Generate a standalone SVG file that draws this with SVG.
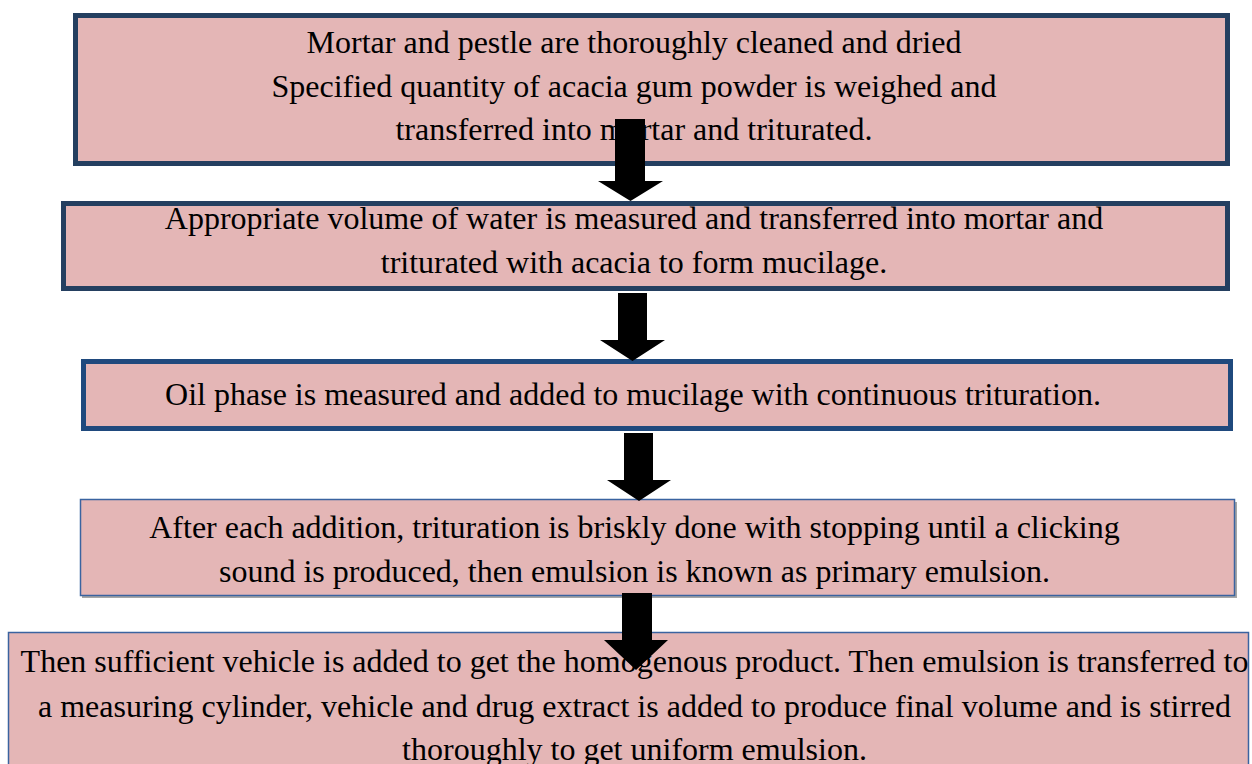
<svg xmlns="http://www.w3.org/2000/svg" width="1252" height="764" viewBox="0 0 1252 764">
<style>
.bx{fill:#e4b6b6}
.thick{stroke:#243f60;stroke-width:5}
.thick2{stroke:#1f497d;stroke-width:5}
.thin{stroke:#3a63a0;stroke-width:1.5}
.t{font-family:"Liberation Serif","Times New Roman",serif;font-size:32px;fill:#000;text-anchor:middle}
.arr{fill:#000}
</style>
<rect width="1252" height="764" fill="#ffffff"/>
<g id="node1">
<rect class="bx thick" x="75.5" y="15.5" width="1152" height="148"/>
<text class="t" x="634" y="53">Mortar and pestle are thoroughly cleaned and dried</text>
<text class="t" x="634" y="96.5">Specified quantity of acacia gum powder is weighed and</text>
<text class="t" x="634" y="140">transferred into mortar and triturated.</text>
</g>
<g id="node2">
<rect class="bx thick" x="63.5" y="203.5" width="1164" height="85"/>
<text class="t" x="634" y="229">Appropriate volume of water is measured and transferred into mortar and</text>
<text class="t" x="634" y="273">triturated with acacia to form mucilage.</text>
</g>
<g id="node3">
<rect class="bx thick2" x="83.5" y="361.5" width="1147" height="67"/>
<text class="t" x="633" y="405">Oil phase is measured and added to mucilage with continuous trituration.</text>
</g>
<g id="node4">
<rect x="82" y="502" width="1155" height="96" fill="#a6a6a6"/>
<rect class="bx thin" x="80.5" y="499.5" width="1154" height="96"/>
<text class="t" x="634.5" y="538">After each addition, trituration is briskly done with stopping until a clicking</text>
<text class="t" x="634.5" y="582">sound is produced, then emulsion is known as primary emulsion.</text>
</g>
<g id="node5">
<rect class="bx thin" x="8.5" y="632.5" width="1240" height="140"/>
<text class="t" x="634.5" y="672">Then sufficient vehicle is added to get the homogenous product. Then emulsion is transferred to</text>
<text class="t" x="634.5" y="716.5">a measuring cylinder, vehicle and drug extract is added to produce final volume and is stirred</text>
<text class="t" x="634.5" y="760">thoroughly to get uniform emulsion.</text>
</g>
<g id="connectors">
<polygon class="arr" points="615,119 645,119 645,181 663,181 630.5,201 598,181 615,181"/>
<polygon class="arr" points="618,293 647,293 647,340 665,340 632.5,361 600,340 618,340"/>
<polygon class="arr" points="624,433 653,433 653,480 671,480 639,501 607,480 624,480"/>
<polygon class="arr" points="622,593 652,593 652,640 668,640 636,670 604,640 622,640"/>
</g>
</svg>
